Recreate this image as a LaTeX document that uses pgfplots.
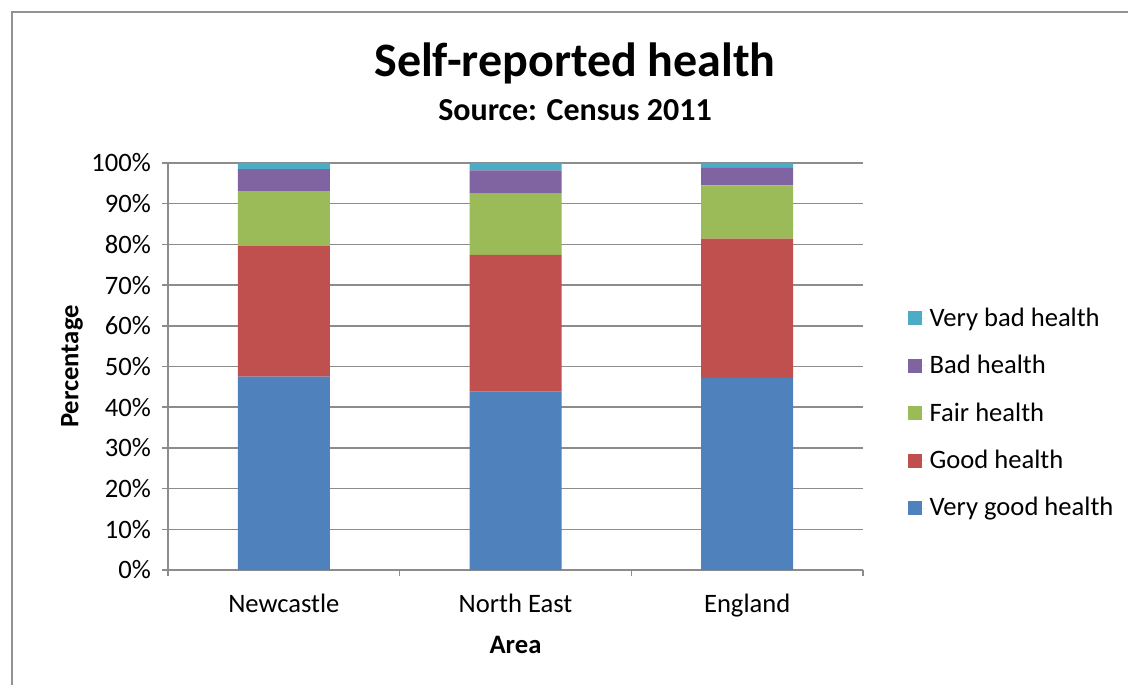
\documentclass[border=0pt]{standalone}
\usepackage{fontspec}
\setmainfont{Carlito}
\usepackage{pgfplots}
\pgfplotsset{compat=1.18}
\definecolor{cvg}{HTML}{4F81BD}
\definecolor{cg}{HTML}{C0504D}
\definecolor{cf}{HTML}{9BBB59}
\definecolor{cb}{HTML}{8064A2}
\definecolor{cvb}{HTML}{4BACC6}
\definecolor{gridc}{HTML}{8C8C8C}
\newcommand\fs{\fontsize{13.3}{16}\selectfont}
\begin{document}
\begin{tikzpicture}
\useasboundingbox (0pt,0pt) rectangle (564pt,342.5pt);
\fill[white] (0pt,0pt) rectangle (564pt,342.5pt);
\draw[gray!85, line width=1pt] (6pt,0pt) -- (6pt,336.5pt) -- (564pt,336.5pt);
\node[font=\bfseries\fontsize{24}{28}\selectfont] at (287.5pt,311pt) {Self-reported health};
\node[font=\bfseries\fontsize{16}{19}\selectfont] at (287.5pt,287.5pt) {Source: Census 2011};
\begin{axis}[
  at={(84pt,57.5pt)}, anchor=south west,
  scale only axis, width=347.5pt, height=203.5pt,
  ybar stacked, bar width=46pt,
  xmin=-0.5, xmax=2.5, ymin=0, ymax=100,
  axis x line*=bottom, axis y line*=left,
  axis line style={gridc, line width=0.8pt},
  tick align=outside, major tick length=3pt,
  every tick/.style={gridc, line width=0.8pt},
  xtick={-0.5,0.5,1.5,2.5}, xticklabels={},
  extra x ticks={0,1,2},
  extra x tick labels={Newcastle,North East,England},
  extra x tick style={major tick length=0pt, xticklabel style={yshift=-8.5pt}},
  ytick={0,10,...,100},
  yticklabels={0\%,10\%,20\%,30\%,40\%,50\%,60\%,70\%,80\%,90\%,100\%},
  yticklabel style={xshift=-2pt},
  ymajorgrids, grid style={gridc, line width=0.8pt},
  tick label style={font=\fs, text=black},
  xlabel={Area}, ylabel={Percentage},
  label style={font=\bfseries\fs},
  xlabel style={at={(axis description cs:0.5,-0.184)}, anchor=center},
  ylabel style={at={(axis description cs:-0.138,0.5)}, anchor=center},
  legend style={draw=none, fill=none, font=\fs, at={(1.055,0.385)}, anchor=west, row sep=9pt},
  legend cell align=left,
  reverse legend,
  legend image code/.code={\fill[#1] (0pt,-3.5pt) rectangle (7pt,3.5pt); \path (0pt,0pt) -- (9pt,0pt);},
]
\addplot[fill=cvg, draw=none] coordinates {(0,47.5) (1,43.8) (2,47.2)};
\addplot[fill=cg, draw=none] coordinates {(0,32.1) (1,33.6) (2,34.2)};
\addplot[fill=cf, draw=none] coordinates {(0,13.5) (1,15.1) (2,13.1)};
\addplot[fill=cb, draw=none] coordinates {(0,5.4) (1,5.7) (2,4.3)};
\addplot[fill=cvb, draw=none] coordinates {(0,1.5) (1,1.8) (2,1.2)};
\legend{Very good health,Good health,Fair health,Bad health,Very bad health}
\end{axis}
\end{tikzpicture}
\end{document}
